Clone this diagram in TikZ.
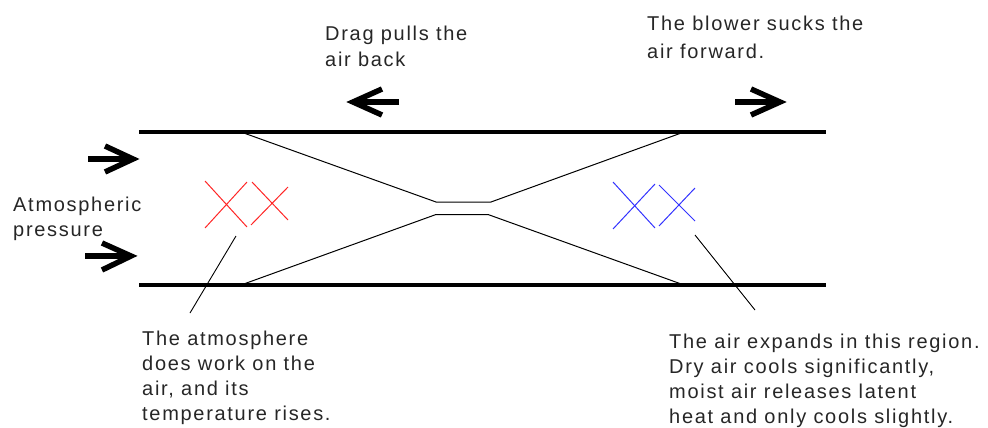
\documentclass[tikz,border=0pt]{standalone}
\usepackage{fontspec}
\setmainfont{Liberation Sans}[LetterSpace=8.5]
\tikzset{
  wall/.style={line width=3.4pt},
  duct/.style={line width=1pt},
  leader/.style={line width=0.9pt},
  bigarrow/.style={line width=5.5pt,line join=miter},
  redx/.style={line width=1pt,red!85!white},
  bluex/.style={line width=1pt,blue!80!white},
  label/.style={anchor=north west,inner sep=0pt,align=left,font=\fontsize{20}{25}\selectfont,text=black!85}
}
\begin{document}
\begin{tikzpicture}[x=1pt,y=-1pt]
\useasboundingbox (0,0) rectangle (988,428);
% walls
\coordinate (tl) at (139,132); \coordinate (tr) at (826,132);
\coordinate (bl) at (139,285); \coordinate (br) at (826,285);
\draw[wall] (tl) -- (tr);
\draw[wall] (bl) -- (br);
% nozzle
\coordinate (a1) at (241,132); \coordinate (a2) at (436,202); \coordinate (a3) at (491,202); \coordinate (a4) at (684,132);
\coordinate (b1) at (241,285); \coordinate (b2) at (436,214.5); \coordinate (b3) at (488,214.5); \coordinate (b4) at (684,285);
\draw[duct] (a1) -- (a2) -- (a3) -- (a4);
\draw[duct] (b1) -- (b2) -- (b3) -- (b4);
% big arrows
\draw[bigarrow] (88,159) -- (132,159);
\draw[bigarrow] (105,146) -- (133,159) -- (105,172);
\draw[bigarrow] (85,256) -- (130,256);
\draw[bigarrow] (102,243) -- (131,256) -- (102,270);
\draw[bigarrow] (399,102) -- (354,102);
\draw[bigarrow] (382,89) -- (353,102) -- (382,115);
\draw[bigarrow] (735,102) -- (779,102);
\draw[bigarrow] (751,89) -- (780,102) -- (751,115);
% crosses
\draw[redx] (205,181) -- (247,227) (205,228) -- (247,182);
\draw[redx] (252,182) -- (288,220) (251,225) -- (288,187);
\draw[bluex] (613,182) -- (655,228) (613,229) -- (655,184);
\draw[bluex] (659,185) -- (695,221) (659,226) -- (695,188);
% labels
\node[label,font=\fontsize{20}{26}\selectfont] (drag) at (325,26) {Drag pulls the\\air back};
\node[label,font=\fontsize{20}{28}\selectfont] (blower) at (647,16) {The blower sucks the\\air forward.};
\node[label] (atm) at (13,197) {Atmospheric\\pressure};
\node[label] (work) at (142,331) {The atmosphere\\does work on the\\air, and its\\temperature rises.};
\node[label] (exp) at (669,334) {The air expands in this region.\\Dry air cools significantly,\\moist air releases latent\\heat and only cools slightly.};
% leaders
\coordinate (l1) at (236,236); \coordinate (l2) at (190,313);
\coordinate (r1) at (695,235); \coordinate (r2) at (755,310);
\draw[leader] (l1) -- (l2);
\draw[leader] (r1) -- (r2);
\end{tikzpicture}
\end{document}
